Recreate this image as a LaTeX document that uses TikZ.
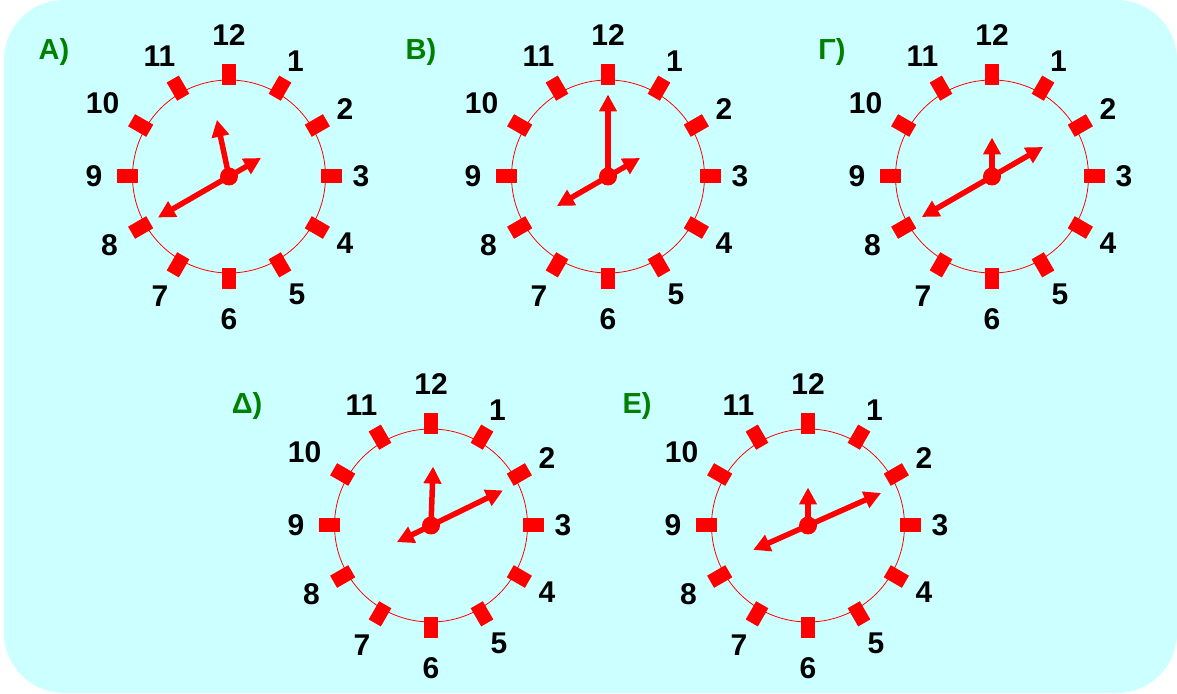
\documentclass[tikz,border=0pt]{standalone}
\usepackage{fontspec}
\setmainfont{Liberation Sans}
\definecolor{bgcyan}{HTML}{CCFFFF}
\definecolor{clockred}{HTML}{FF0000}
\definecolor{lblgreen}{HTML}{008000}
\usepackage{tikz}
\usetikzlibrary{arrows.meta}
\tikzset{
  face/.style={draw=clockred,line width=0.8pt},
  tick/.style={fill=clockred},
  num/.style={font=\fontsize{30}{32}\selectfont\bfseries,inner sep=0pt},
  lbl/.style={font=\fontsize{29}{31}\selectfont\bfseries,text=lblgreen,inner sep=0pt,anchor=base},
  hand/.style={-{Triangle[length=17pt,width=17pt]},line width=5.5pt,clockred},
  hub/.style={circle,fill=clockred,inner sep=0pt,minimum size=18pt}
}
\begin{document}
\begin{tikzpicture}[x=1pt,y=1pt]
    \tikzset{clockface/.pic={
        \draw[face] (0,0) circle (96.5);
        \foreach \a in {0,30,...,330}
            \fill[tick,rotate=\a] (91.5,-7) rectangle (112.5,7);
        \foreach \h/\r in {1/133,2/134,3/132,4/134,5/136,6/143,7/138,8/138,9/135,10/146,11/139,12/141}
            \node[num] (-n\h) at ({90-30*\h}:\r) {\h};}}
    \useasboundingbox (0,0) rectangle (1177,693);
    \fill[bgcyan,rounded corners=60pt] (4,0) rectangle (1177,693);
    \pic (ca) at (229,516.5) {clockface};
    \pic (cb) at (608,516.5) {clockface};
    \pic (cg) at (992,516.5) {clockface};
    \pic (cd) at (431,167.5) {clockface};
    \pic (ce) at (808,167.5) {clockface};
    \node[lbl] (la) at (54,633) {Α)};
    \node[lbl] (lb) at (421,633) {Β)};
    \node[lbl] (lg) at (832,633) {Γ)};
    \node[lbl] (ld) at (247,279) {Δ)};
    \node[lbl] (le) at (637,279) {Ε)};
    \node[hub] (ha) at (229,516.5) {};
    \draw[hand] (ha.center) -- ++(102:58);
    \draw[hand] (ha.center) -- ++(210:82);
    \draw[hand] (ha.center) -- ++(30:37);
    \node[hub] (hb) at (608,516.5) {};
    \draw[hand] (hb.center) -- ++(90:82);
    \draw[hand] (hb.center) -- ++(210:59);
    \draw[hand] (hb.center) -- ++(30:37);
    \node[hub] (hg) at (992,516.5) {};
    \draw[hand] (hg.center) -- ++(90:39);
    \draw[hand] (hg.center) -- ++(210:81);
    \draw[hand] (hg.center) -- ++(30:59);
    \node[hub] (hd) at (431,167.5) {};
    \draw[hand] (hd.center) -- ++(88:59);
    \draw[hand] (hd.center) -- ++(26:80);
    \draw[hand] (hd.center) -- ++(206:38);
    \node[hub] (he) at (808,167.5) {};
    \draw[hand] (he.center) -- ++(90:38);
    \draw[hand] (he.center) -- ++(24:80);
    \draw[hand] (he.center) -- ++(204:60);
\end{tikzpicture}
\end{document}
